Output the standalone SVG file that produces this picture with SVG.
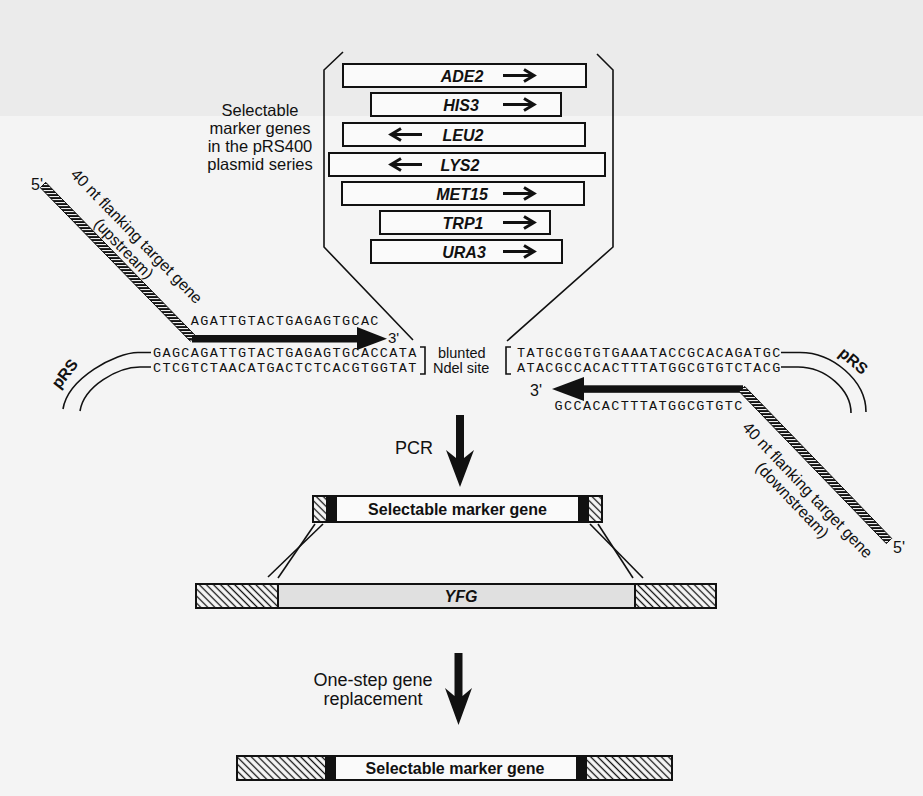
<svg xmlns="http://www.w3.org/2000/svg" width="923" height="796" viewBox="0 0 923 796">
<defs>
<style>
.sans{font-family:"Liberation Sans",Arial,sans-serif;fill:#111}
.seq{font-family:"Liberation Mono","Courier New",monospace;font-size:13.5px;letter-spacing:1.35px;fill:#111}
.gene{font-family:"Liberation Sans",Arial,sans-serif;font-size:16px;font-weight:bold;font-style:italic;fill:#111;text-anchor:middle}
.lbl{font-family:"Liberation Sans",Arial,sans-serif;font-size:16px;font-weight:bold;fill:#111;text-anchor:middle}
.box{fill:#fafafa;stroke:#111;stroke-width:2}
.ln{fill:none;stroke:#111;stroke-width:1.6}
.arr{fill:none;stroke:#111;stroke-width:3}
.blk{fill:#111}
</style>
<pattern id="hatch" width="5" height="5" patternUnits="userSpaceOnUse" patternTransform="rotate(45)">
<rect width="5" height="5" fill="#f8f8f8"/>
<line x1="0" y1="2.5" x2="5" y2="2.5" stroke="#111" stroke-width="1.3"/>
</pattern>
<pattern id="stripe" width="4" height="3" patternUnits="userSpaceOnUse">
<rect width="4" height="3" fill="#111"/>
<rect y="1" width="4" height="1.1" fill="#eee"/>
</pattern>
<path id="ra" d="M0,0H30M21,-6L31,0L21,6" class="arr"/>
<path id="la" d="M0,0H-30M-21,-6L-31,0L-21,6" class="arr"/>
</defs>

<rect width="923" height="796" fill="#f4f4f4"/>
<rect width="923" height="116" fill="#ebebeb"/>

<!-- marker gene set -->
<g id="marker-label">
<text class="sans" font-size="16.5" text-anchor="middle"><tspan x="260" y="116">Selectable</tspan><tspan x="260" y="134">marker genes</tspan><tspan x="260" y="152">in the pRS400</tspan><tspan x="260" y="170">plasmid series</tspan></text>
</g>
<g id="marker-bracket">
<path class="ln" d="M343,52 L324,70 V247 L413,340"/>
<path class="ln" d="M597,54 L613,70 V247 L507,341"/>
</g>
<g id="gene-ADE2"><rect class="box" x="343" y="64" width="243" height="23"/><text class="gene" x="462" y="81.5">ADE2</text><use href="#ra" x="503" y="75.5"/></g>
<g id="gene-HIS3"><rect class="box" x="371" y="93" width="190" height="23"/><text class="gene" x="461" y="110.5">HIS3</text><use href="#ra" x="503" y="104.5"/></g>
<g id="gene-LEU2"><rect class="box" x="343" y="123" width="242" height="23"/><text class="gene" x="463" y="140.5">LEU2</text><use href="#la" x="422" y="134.5"/></g>
<g id="gene-LYS2"><rect class="box" x="329" y="153" width="276" height="23"/><text class="gene" x="460" y="170.5">LYS2</text><use href="#la" x="422" y="164.5"/></g>
<g id="gene-MET15"><rect class="box" x="342" y="182" width="242" height="23"/><text class="gene" x="462" y="199.5">MET15</text><use href="#ra" x="503" y="193.5"/></g>
<g id="gene-TRP1"><rect class="box" x="380" y="211" width="170" height="23"/><text class="gene" x="463" y="228.5">TRP1</text><use href="#ra" x="503" y="222.5"/></g>
<g id="gene-URA3"><rect class="box" x="371" y="240" width="191" height="23"/><text class="gene" x="464" y="257.5">URA3</text><use href="#ra" x="503" y="251.5"/></g>

<!-- upstream primer -->
<g id="primer-upstream">
<polygon points="40.3,187.7 45.7,182.3 195.7,335.9 190.3,341.2" fill="url(#stripe)" stroke="#111" stroke-width="1"/>
<rect class="blk" x="192" y="335" width="167" height="7.5"/>
<polygon class="blk" points="357,327 387,338.7 357,350"/>
<text class="sans" font-size="16" x="31" y="190">5'</text>
<text class="sans" font-size="15" x="388" y="343">3'</text>
<text class="seq" x="190.8" y="325">AGATTGTACTGAGAGTGCAC</text>
<text class="sans" font-size="16" text-anchor="middle" transform="translate(132.8,239.9) rotate(45.8)">40 nt flanking target gene</text>
<text class="sans" font-size="16" text-anchor="middle" transform="translate(119.9,252.4) rotate(45.8)">(upstream)</text>
</g>

<!-- plasmid left -->
<g id="pRS-left">
<path class="ln" d="M151,352.5 H138 C116,352.5 68,378 63,409"/>
<path class="ln" d="M151,367 H140 C118,367 84,386 80,411"/>
<text class="lbl" font-size="17" transform="translate(69,377) rotate(-52)">pRS</text>
<text class="seq" x="153" y="357">GAGCAGATTGTACTGAGAGTGCACCATA</text>
<text class="seq" x="153" y="372">CTCGTCTAACATGACTCTCACGTGGTAT</text>
<path class="ln" d="M420,347 H425 V374 H420"/>
</g>

<g id="ndeI-site">
<text class="sans" font-size="14.5" x="438" y="358">blunted</text>
<text class="sans" font-size="14.5" x="433" y="373">Ndel site</text>
</g>

<!-- plasmid right -->
<g id="pRS-right">
<path class="ln" d="M511,347 H506 V374 H511"/>
<text class="seq" x="517" y="357">TATGCGGTGTGAAATACCGCACAGATGC</text>
<text class="seq" x="517" y="372">ATACGCCACACTTTATGGCGTGTCTACG</text>
<path class="ln" d="M781,352.5 H800 C832,352.5 866,380 866,412"/>
<path class="ln" d="M781,367 H798 C826,367 851,390 851,413"/>
<text class="lbl" font-size="17" transform="translate(850,365) rotate(40)">pRS</text>
</g>

<!-- downstream primer -->
<g id="primer-downstream">
<rect class="blk" x="583" y="385.3" width="160" height="7.5"/>
<polygon class="blk" points="584,377 552,389 584,401"/>
<polygon points="739.3,391.6 744.7,386.4 891.7,538.4 886.3,543.6" fill="url(#stripe)" stroke="#111" stroke-width="1"/>
<text class="sans" font-size="16" x="530" y="396">3'</text>
<text class="seq" x="554.6" y="410">GCCACACTTTATGGCGTGTC</text>
<text class="sans" font-size="16" x="893" y="553">5'</text>
<text class="sans" font-size="16" text-anchor="middle" transform="translate(803.6,493.7) rotate(46.5)">40 nt flanking target gene</text>
<text class="sans" font-size="16" text-anchor="middle" transform="translate(788.4,503.8) rotate(46.5)">(downstream)</text>
</g>

<!-- PCR step -->
<g id="step-pcr">
<polygon class="blk" points="456,415 464,415 464,458 474,450 460,487 446,450 456,458"/>
<text class="sans" font-size="18" x="395" y="454">PCR</text>
</g>

<g id="pcr-product">
<rect class="box" x="313" y="496" width="289" height="26"/>
<rect x="313" y="496" width="14" height="26" fill="url(#hatch)" stroke="#111" stroke-width="2"/>
<rect class="blk" x="327" y="496" width="10" height="26"/>
<rect class="blk" x="578" y="496" width="10" height="26"/>
<rect x="588" y="496" width="14" height="26" fill="url(#hatch)" stroke="#111" stroke-width="2"/>
<text class="lbl" x="457.5" y="514.5">Selectable marker gene</text>
</g>

<g id="connectors">
<line class="ln" x1="268" y1="577" x2="323" y2="524"/>
<line class="ln" x1="278" y1="578" x2="315" y2="524"/>
<line class="ln" x1="590" y1="524" x2="643" y2="578"/>
<line class="ln" x1="598" y1="524" x2="633" y2="578"/>
</g>

<g id="yfg-locus">
<rect x="196" y="584" width="520" height="24" fill="#e0e0e0" stroke="#111" stroke-width="2"/>
<rect x="196" y="584" width="82" height="24" fill="url(#hatch)" stroke="#111" stroke-width="2"/>
<rect x="635" y="584" width="81" height="24" fill="url(#hatch)" stroke="#111" stroke-width="2"/>
<text class="gene" x="461" y="601.5">YFG</text>
</g>

<g id="step-replacement">
<polygon class="blk" points="454.5,653 462.5,653 462.5,696 472,688 458.5,725 445,688 454.5,696"/>
<text class="sans" font-size="18" text-anchor="middle"><tspan x="373" y="686">One-step gene</tspan><tspan x="373" y="705">replacement</tspan></text>
</g>

<g id="final-locus">
<rect class="box" x="237" y="756" width="435" height="24"/>
<rect x="237" y="756" width="89" height="24" fill="url(#hatch)" stroke="#111" stroke-width="2"/>
<rect class="blk" x="326" y="756" width="10" height="24"/>
<rect class="blk" x="576" y="756" width="10" height="24"/>
<rect x="586" y="756" width="86" height="24" fill="url(#hatch)" stroke="#111" stroke-width="2"/>
<text class="lbl" x="455" y="774">Selectable marker gene</text>
</g>
</svg>
